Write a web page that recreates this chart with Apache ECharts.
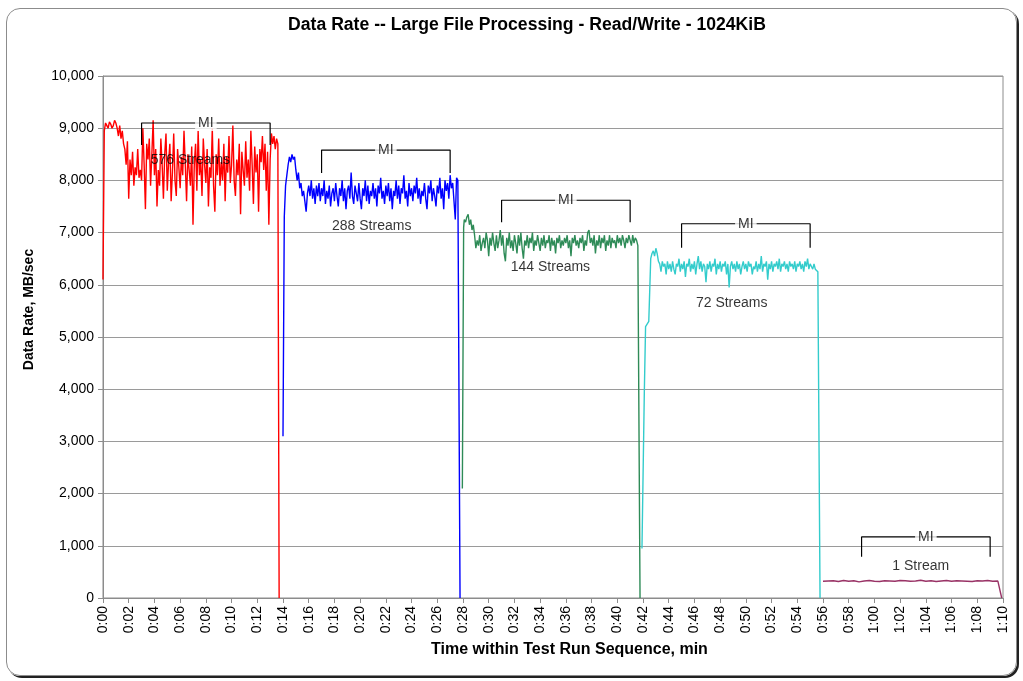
<!DOCTYPE html>
<html>
<head>
<meta charset="utf-8">
<script src="https://cdn.jsdelivr.net/npm/echarts@6/dist/echarts.min.js"></script>
<style>
html,body{margin:0;padding:0;background:#fff;}
#chart{position:absolute;left:0;top:0;width:1023px;height:681px;}
#frame{position:absolute;left:6px;top:8px;width:1009px;height:666px;border:1px solid #8c8c8c;border-radius:14px;box-shadow:2px 2px 0 #222;pointer-events:none;}
</style>
</head>
<body>
<div id="chart"></div>
<div id="frame"></div>
<script>
// ---- data (time in seconds, rate in MB/sec) ----
const STEP = 0.1;

const redLead = [[0, 6100]];
const redT0 = 0.1;
const redVals = [
  8950,9100,9050,9000,9120,9080,9000,9050,9150,9100,
  9000,8850,9050,8800,8950,8700,8600,8300,8750,7650,
  8400,8100,8550,7900,8250,8100,8600,8050,8200,8000,
  9000,8300,7450,8700,8400,8800,7900,8500,9150,8100,
  8600,7500,8200,7900,8800,8300,7650,8500,8900,7800,
  8350,8700,7600,8150,8900,8000,7700,8600,8250,7850,
  8450,8100,8950,8300,7600,8500,8200,7900,8650,7150,
  8300,8700,7800,8950,8100,8400,7700,8800,8300,7950,
  8600,7500,8250,8050,9000,7900,7400,8500,8100,8800,
  7900,8350,8000,8700,7600,8450,8150,8850,7950,8300,
  9050,8000,7700,8400,8100,8700,7350,8550,8200,7900,
  8750,8050,8400,7800,8950,8300,7550,8650,8150,8500,
  7400,8600,8350,8850,8200,8700,7800,8550,7150,8400,
  8900,8700,8850,8600,8800,8700];
const redTail = [[13.7, 0]];

const blueLead = [[14.0, 3100],[14.1, 7300],[14.2, 7900]];
const blueT0 = 14.3;
const blueVals = [
  8100,8300,8450,8350,8500,8400,8450,8200,
  8000,8150,7850,7950,7700,7800,7600,7400,7750,7900,
  7700,8000,7650,7850,7550,7900,7700,7950,7600,7850,
  7700,8000,7550,7800,7650,7900,7500,7750,7850,7600,
  7950,7700,7500,7850,7700,8000,7600,7850,7450,7800,
  7900,7650,8150,7700,7550,7900,7750,7600,7950,7650,
  7450,7850,7700,8000,7600,7900,7550,7800,7700,7950,
  7650,7850,7500,7900,7750,8050,7650,7800,7550,7900,
  7700,7950,7600,7850,7450,7800,7700,8000,7650,7900,
  7550,7850,7750,8100,7650,7800,7500,7950,7700,7850,
  7600,7900,7750,8050,7650,7850,7550,7800,7700,7950,
  7650,7450,7900,7750,8000,7600,7850,7700,7500,7900,
  7750,8050,7650,7850,7450,8000,7800,7950,7650,8100,
  7850,7950,7600,7250,8050,8000];
const blueTail = [[27.77, 0]];

const greenLead = [[27.95, 2100],[28.05, 7100]];
const greenT0 = 28.1;
const greenVals = [
  7250,7200,7300,7350,7150,7250,7050,7150,6950,6700,
  6850,6750,6950,6650,6800,6900,6700,7000,6850,6550,
  6900,6750,7000,6800,6650,6950,6700,6850,7050,6750,
  6950,6600,6450,6900,6750,7000,6700,6850,6650,6950,
  6800,6600,6950,6750,7000,6700,6500,6850,6750,6950,
  6700,6900,6800,7000,6650,6850,6750,6950,6800,6650,
  6900,6750,6950,6700,6850,6800,6950,6650,6900,6750,
  6850,6600,6900,6800,6950,6700,6850,6750,6900,6800,
  6950,6700,6850,6550,6900,6800,6950,6750,6850,6700,
  6900,6800,6950,6650,6850,6750,7000,7050,6800,6900,
  6750,6950,6600,6850,6750,6950,6700,6900,6800,6950,
  6650,6850,6750,6950,6700,6900,6800,6850,6700,6950,
  6800,6900,6750,6950,6850,6700,6900,6800,6950,6850,
  6750,6950,6800,6900,6850,6750];
const greenTail = [[41.77, 0]];

const cyanLead = [[41.92, 950],[42.1, 3900],[42.2, 5200],[42.45, 5300],[42.6, 6500]];
const cyanT0 = 42.7;
const cyanVals = [
  6600,6650,6550,6700,
  6600,6450,6400,6250,6450,6350,6400,6200,6450,6300,
  6400,6250,6450,6300,6200,6400,6350,6500,6250,6400,
  6300,6450,6150,6400,6350,6500,6250,6400,6300,6450,
  6200,6400,6550,6300,6450,6250,6400,6350,6050,6400,
  6300,6450,6250,6400,6350,6500,6200,6400,6300,6450,
  6250,6400,6350,6450,6200,6400,5950,6350,6450,6300,
  6400,6250,6450,6300,6400,6200,6350,6450,6300,6400,
  6250,6450,6350,6400,6200,6350,6300,6450,6250,6400,
  6300,6550,6250,6400,6350,6450,6100,6400,6300,6450,
  6250,6400,6350,6450,6300,6500,6250,6400,6350,6450,
  6300,6400,6250,6450,6350,6400,6300,6450,6250,6400,
  6350,6450,6300,6400,6250,6450,6350,6500,6300,6400,
  6350,6300,6400,6300,6280,6250];
const cyanTail = [[55.77, 0]];

const purpleT0 = 56.0;
const purpleStep = 0.4;
const purpleVals = [320,325,330,315,335,320,330,310,325,335,320,315,330,325,320,335,330,320,325,340,
  320,330,315,325,335,320,330,325,320,315,330,325,335,320,325];
const purpleTail = [[69.9, 0]];

// annotations
const miStart  = [3, 17, 31, 45, 59];
const miEnd    = [13, 27, 41, 55, 69];
const miTop    = [9100, 8580, 7620, 7170, 1170];
const miBottom = [8680, 8140, 7200, 6710, 790];
const streamLabels = ['576 Streams', '288 Streams', '144 Streams', '72 Streams', '1 Stream'];
const streamLabelX = [6.8, 20.9, 34.8, 48.9, 63.6];
const streamLabelY = [8390, 7125, 6340, 5650, 613];

const colors = ['#ff0000', '#0000ff', '#2e8b57', '#33cccc', '#993366'];

// ---- build ----
function build(lead, t0, step, vals, tail) {
  const pts = lead.slice();
  vals.forEach((v, i) => pts.push([+(t0 + i * step).toFixed(3), v]));
  return pts.concat(tail);
}
const segs = [
  build(redLead, redT0, STEP, redVals, redTail),
  build(blueLead, blueT0, STEP, blueVals, blueTail),
  build(greenLead, greenT0, STEP, greenVals, greenTail),
  build(cyanLead, cyanT0, STEP, cyanVals, cyanTail),
  build([], purpleT0, purpleStep, purpleVals, purpleTail)
];

const FONT = 'Liberation Sans, Arial, sans-serif';
const series = segs.map((d, i) => ({
  type: 'line', data: d, showSymbol: false, symbol: 'none', animation: false,
  lineStyle: { color: colors[i], width: 1.4 }, z: 3
}));

miStart.forEach((s, i) => {
  series.push({
    type: 'line', showSymbol: false, symbol: 'none', animation: false, z: 4,
    lineStyle: { color: '#000', width: 1.2 },
    data: [[s, miBottom[i]], [s, miTop[i]], [miEnd[i], miTop[i]], [miEnd[i], miBottom[i]]]
  });
});
series.push({
  type: 'scatter', symbolSize: 0, animation: false, z: 6,
  data: miStart.map((s, i) => [(s + miEnd[i]) / 2, miTop[i]]),
  label: { show: true, formatter: 'MI', position: 'inside', color: '#000', fontFamily: FONT, fontSize: 14,
    backgroundColor: '#fff', padding: [1, 3] }
});
series.push({
  type: 'scatter', symbolSize: 0, animation: false, z: 6,
  data: streamLabelX.map((x, i) => ({ value: [x, streamLabelY[i]], name: streamLabels[i] })),
  label: { show: true, formatter: p => p.name, position: 'inside', color: '#000', fontFamily: FONT, fontSize: 14 }
});

const chart = echarts.init(document.getElementById('chart'), null, { renderer: 'canvas' });
chart.setOption({
  animation: false,
  title: {
    text: 'Data Rate -- Large File Processing - Read/Write - 1024KiB',
    left: 522, top: 11, textAlign: 'center',
    textStyle: { fontFamily: FONT, fontSize: 17.6, fontWeight: 'bold', color: '#000' }
  },
  grid: { left: 103, right: 20, top: 76, bottom: 83, show: true, borderColor: '#8c8c8c', borderWidth: 1 },
  xAxis: {
    type: 'value', min: 0, max: 70, interval: 2,
    name: 'Time within Test Run Sequence, min', nameLocation: 'middle', nameGap: 44,
    nameTextStyle: { fontFamily: FONT, fontSize: 16, fontWeight: 'bold', color: '#000', padding: [0, 0, 0, 33] },
    axisLine: { show: true, lineStyle: { color: '#8c8c8c' } },
    axisTick: { show: true, length: 5, lineStyle: { color: '#8c8c8c' } },
    splitLine: { show: false },
    axisLabel: {
      rotate: 90, margin: 8, fontFamily: FONT, fontSize: 14, color: '#000',
      formatter: v => Math.floor(v / 60) + ':' + String(Math.round(v % 60)).padStart(2, '0')
    }
  },
  yAxis: {
    type: 'value', min: 0, max: 10000, interval: 1000,
    name: 'Data Rate, MB/sec', nameLocation: 'middle', nameGap: 67, nameRotate: 90,
    nameTextStyle: { fontFamily: FONT, fontSize: 14, fontWeight: 'bold', color: '#000', padding: [0, 0, 0, 55] },
    axisLine: { show: true, lineStyle: { color: '#8c8c8c' } },
    axisTick: { show: true, length: 5, lineStyle: { color: '#8c8c8c' } },
    splitLine: { show: true, lineStyle: { color: '#9a9a9a', width: 1 } },
    axisLabel: { margin: 9, fontFamily: FONT, fontSize: 14, color: '#000',
      formatter: v => v.toLocaleString('en-US') }
  },
  series: series
});
</script>
</body>
</html>
